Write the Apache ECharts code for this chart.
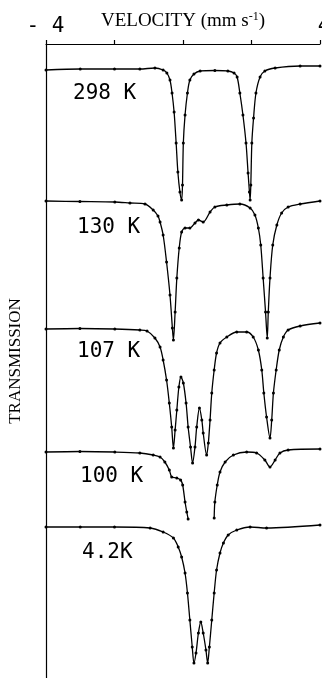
<!DOCTYPE html>
<html>
<head>
<meta charset="utf-8">
<script src="https://cdn.jsdelivr.net/npm/echarts@6/dist/echarts.min.js"></script>
<style>
html,body{margin:0;padding:0;background:#fff;}
#chart{width:322px;height:678px;}
</style>
</head>
<body>
<div id="chart"></div>
<script>
// Velocity (mm/s) and relative transmission (%)
const labels = ['298 K', '130 K', '107 K', '100 K', '4.2K'];
const offsets = [0, -13.3, -26.0, -38.3, -45.8];

const v298 = [-4.0,-3.0,-2.0,-1.26,-0.82,-0.58,-0.47,-0.38,-0.32,-0.26,-0.20,-0.15,-0.09,-0.04,-0.015,0.01,0.06,0.13,0.20,0.32,0.50,0.93,1.31,1.49,1.58,1.66,1.75,1.84,1.90,1.94,1.96,1.98,2.01,2.06,2.13,2.25,2.39,2.69,3.42,4.0];
const t298 = [99.9,100,100,100,100.1,99.9,99.6,98.9,97.6,95.7,92.6,89.7,87.7,86.9,88.4,92.6,95.4,97.6,98.9,99.5,99.8,99.85,99.8,99.6,99.2,97.6,95.4,92.6,89.6,87.7,86.9,88.4,92.6,95.1,97.6,99.2,99.8,100.1,100.3,100.3];

const v130 = [-4.0,-3.01,-1.99,-1.55,-1.11,-0.87,-0.73,-0.67,-0.58,-0.48,-0.38,-0.31,-0.28,-0.23,-0.18,-0.11,-0.04,0.06,0.20,0.35,0.45,0.59,0.79,0.93,1.28,1.66,1.96,2.10,2.20,2.27,2.34,2.41,2.46,2.49,2.54,2.62,2.74,2.88,3.07,3.42,4.0];
const t130 = [100.1,100.05,100,99.9,99.8,99.2,98.6,98.0,96.7,94.0,90.7,87.4,86.2,89.0,92.4,95.4,97.0,97.4,97.4,97.9,98.2,98.0,99.0,99.5,99.7,99.8,99.4,98.7,97.4,95.7,92.4,89.0,86.4,89.0,92.4,95.7,97.7,98.9,99.5,99.8,100.1];

const v107 = [-4.0,-3.01,-1.99,-1.26,-1.05,-0.82,-0.67,-0.58,-0.48,-0.40,-0.33,-0.28,-0.23,-0.18,-0.12,-0.06,0.01,0.09,0.15,0.22,0.28,0.35,0.40,0.48,0.55,0.59,0.69,0.74,0.79,0.84,0.91,0.98,1.08,1.28,1.57,1.86,2.05,2.20,2.30,2.36,2.44,2.54,2.59,2.64,2.72,2.81,2.93,3.07,3.42,4.0];
const t107 = [100,100.05,100,99.9,99.8,99.1,98.2,96.9,94.9,92.6,90.2,88.1,89.9,91.9,94.2,95.2,94.6,92.6,90.2,88.2,86.6,88.2,90.2,92.1,90.9,89.6,87.4,88.6,90.9,93.6,95.9,97.6,98.6,99.2,99.7,99.7,99.2,97.9,95.9,93.6,91.2,89.1,90.9,93.6,95.9,97.9,99.2,99.9,100.3,100.6];

const v100 = [-4.0,-3.01,-1.99,-1.26,-0.87,-0.67,-0.53,-0.40,-0.33,-0.18,-0.07,-0.01,0.06,0.11,0.15,0.5,0.91,0.93,1.00,1.08,1.23,1.47,1.86,2.15,2.39,2.54,2.69,2.83,3.07,4.0];
const t100 = [100,100.05,100,99.9,99.7,99.5,99.0,98.2,97.5,97.4,97.2,96.7,95.0,94.0,93.3,null,93.4,95.0,96.7,98.0,99.0,99.7,100.0,99.9,99.2,98.5,99.2,99.9,100.2,100.3];

const v4 = [-4.0,-3.0,-2.0,-0.96,-0.58,-0.28,-0.14,-0.04,0.06,0.13,0.20,0.27,0.32,0.38,0.45,0.52,0.59,0.67,0.72,0.77,0.84,0.91,0.98,1.08,1.18,1.32,1.57,1.96,2.44,4.0];
const t4 = [100,100,100,99.9,99.5,98.9,98.0,97.0,95.4,93.4,90.7,88.0,86.4,87.4,89.4,90.5,89.4,87.7,86.4,88.0,90.7,93.4,95.7,97.4,98.4,99.2,99.7,100.0,99.9,100.2];

const spectra = [[v298,t298],[v130,t130],[v107,t107],[v100,t100],[v4,t4]];

const series = spectra.map(function(s, k){
  return {
    type: 'line',
    name: labels[k],
    data: s[0].map(function(x, i){ return [x, s[1][i] == null ? '-' : +(s[1][i] + offsets[k]).toFixed(2)]; }),
    smooth: 0.3,
    connectNulls: false,
    showSymbol: true,
    showAllSymbol: true,
    symbol: 'circle',
    symbolSize: 3,
    itemStyle: {color: '#000'},
    lineStyle: {color: '#000', width: 1.3},
    silent: true,
    animation: false
  };
});

const labelY = [95, 229, 353, 478, 554];
const labelX = [73, 77, 77, 80, 82];

const chart = echarts.init(document.getElementById('chart'), null, {renderer: 'canvas'});
chart.setOption({
  backgroundColor: '#fff',
  animation: false,
  grid: {left: 46, right: 2, top: 44, bottom: 0, containLabel: false, outerBoundsMode: 'none'},
  xAxis: {
    type: 'value', position: 'top', min: -4, max: 4, interval: 2,
    axisLine: {show: true, onZero: false, lineStyle: {color: '#000', width: 1.2}},
    axisTick: {show: true, length: 4, inside: false, lineStyle: {color: '#000', width: 1.2}},
    splitLine: {show: false},
    axisLabel: {
      show: true, margin: 7,
      formatter: function(v){ if (v === -4) return '{a|- 4}'; if (v === 4) return '{b|4}'; return ''; },
      rich: {
        a: {fontFamily: 'DejaVu Sans Mono', fontSize: 21, color: '#000', padding: [0,1,0,0]},
        b: {fontFamily: 'DejaVu Sans Mono', fontSize: 21, color: '#000', padding: [0,0,0,8]}
      }
    },
    name: 'VELOCITY (mm s{sup|-1})',
    nameLocation: 'middle', nameGap: 12, nameMoveOverlap: false,
    nameTextStyle: {
      fontFamily: 'Liberation Serif', fontSize: 19, color: '#000',
      rich: {sup: {fontFamily: 'Liberation Serif', fontSize: 12, color: '#000', padding: [0,0,9,0]}}
    }
  },
  yAxis: {
    type: 'value', min: 39.1, max: 102.5,
    axisLine: {show: true, onZero: false, lineStyle: {color: '#000', width: 1.2}},
    axisTick: {show: false}, axisLabel: {show: false}, splitLine: {show: false},
    name: 'TRANSMISSION', nameLocation: 'middle', nameGap: 22, nameRotate: 90,
    nameTextStyle: {fontFamily: 'Liberation Serif', fontSize: 17, color: '#000'}
  },
  graphic: labels.map(function(t, k){
    return {type: 'text', left: labelX[k], top: labelY[k] - 12, silent: true,
      style: {text: t, fill: '#000', font: '21px "DejaVu Sans Mono"'}};
  }),
  series: series
});
</script>
</body>
</html>
